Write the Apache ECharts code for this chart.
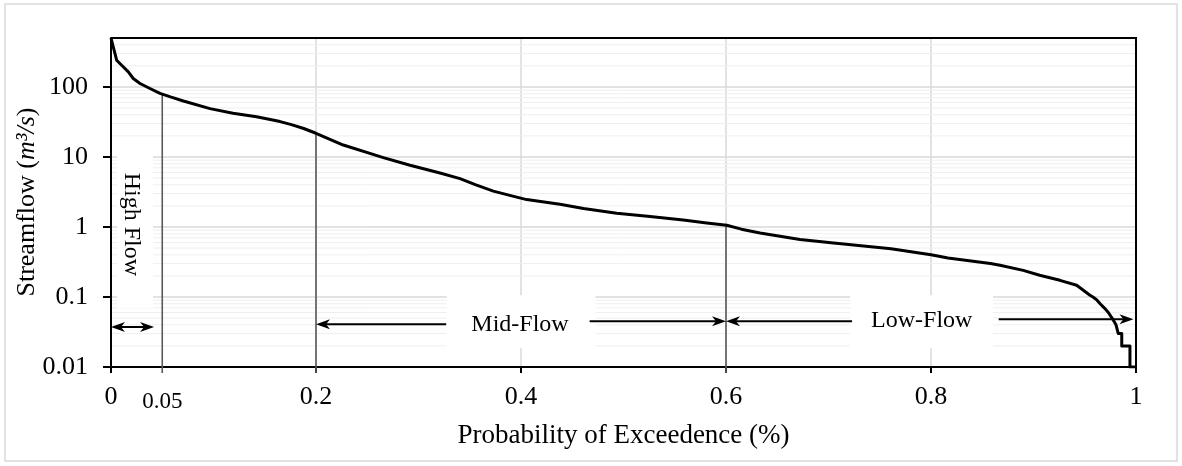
<!DOCTYPE html>
<html>
<head>
<meta charset="utf-8">
<title>Flow Duration Curve</title>
<script src="https://cdn.jsdelivr.net/npm/echarts@6/dist/echarts.min.js"></script>
<style>
  html, body { margin: 0; padding: 0; background: #fff; }
  #chart { width: 1182px; height: 466px; }
</style>
</head>
<body>
<div id="chart"></div>
<script>
// Flow duration curve: exceedance probability vs. streamflow (m3/s)
const probability = [
  0, 0.0022, 0.0055, 0.0104, 0.0169, 0.0217, 0.0283, 0.038, 0.0478, 0.058,
  0.0706, 0.0966, 0.119, 0.142, 0.165, 0.176, 0.188, 0.2, 0.2266, 0.2657,
  0.2917, 0.321, 0.3405, 0.356, 0.373, 0.39, 0.4055, 0.438, 0.461, 0.4934,
  0.5259, 0.5583, 0.5812, 0.6007, 0.615, 0.6332, 0.6722, 0.705, 0.761, 0.8,
  0.8166, 0.858, 0.8673, 0.89, 0.906, 0.9258, 0.9421, 0.9551, 0.958, 0.962,
  0.965, 0.969, 0.973, 0.9766, 0.9805, 0.9827, 0.9861, 0.9861, 0.9941, 0.9941,
  1
];
const flow = [
  500, 373, 241, 204, 164, 132, 112, 95, 81, 72,
  63, 49, 42, 37.5, 32, 29, 25.5, 21.8, 14.8, 9.8,
  7.6, 5.9, 4.9, 4.0, 3.25, 2.8, 2.46, 2.11, 1.83, 1.57,
  1.41, 1.26, 1.14, 1.06, 0.93, 0.82, 0.66, 0.59, 0.49, 0.4,
  0.36, 0.3, 0.284, 0.24, 0.204, 0.173, 0.147, 0.106, 0.1, 0.09,
  0.08, 0.07, 0.06, 0.05, 0.04, 0.03, 0.03, 0.02, 0.02, 0.01,
  0.01
];

// Flow-regime boundaries (exceedance probability)
const boundaries = [0.05, 0.2, 0.6];
const boundaryLabel = '0.05';

// Regime names and their label boxes: [p0, p1, qTop, qBottom, pText, qText]
const regimeNames = ['High Flow', 'Mid-Flow', 'Low-Flow'];
const regimeBoxes = [
  [0.006, 0.041, 16, 0.069, 0.02, 1.09],
  [0.3275, 0.4727, 0.106, 0.0185, 0.399, 0.0407],
  [0.721, 0.8605, 0.106, 0.0185, 0.791, 0.0464]
];
// Span arrows: [pFrom, pTo, q, headAtFrom, headAtTo]
const regimeArrows = [
  [0, 0.042, 0.0373, 1, 1],
  [0.327, 0.2, 0.0407, 0, 1],
  [0.467, 0.6, 0.045, 0, 1],
  [0.723, 0.6, 0.045, 0, 1],
  [0.866, 0.9975, 0.048, 0, 1]
];

const xTickStep = 0.2;
const yMin = 0.01, yMax = 500;

const FONT = "'Liberation Serif', 'Times New Roman', serif";

const curve = probability.map((p, i) => [p, flow[i]]);

// Curve value at p (log-linear between neighbouring curve points)
function curveAt(p) {
  for (let i = 1; i < probability.length; i++) {
    if (p <= probability[i]) {
      const p0 = probability[i - 1], p1 = probability[i];
      const t = p1 === p0 ? 0 : (p - p0) / (p1 - p0);
      return Math.pow(10, Math.log10(flow[i - 1]) + t * (Math.log10(flow[i]) - Math.log10(flow[i - 1])));
    }
  }
  return flow[flow.length - 1];
}

// Minor log gridline values (2..9 within each decade)
const minorGrid = [];
for (let d = -2; d <= 2; d++) {
  for (let k = 2; k <= 9; k++) {
    const v = k * Math.pow(10, d);
    if (v < yMax) minorGrid.push(v);
  }
}

function arrowHead(tip, dir) {
  const L = 14, W = 5, N = 4;
  return {
    type: 'polygon',
    shape: { points: [
      [tip[0], tip[1]],
      [tip[0] - dir * L, tip[1] - W],
      [tip[0] - dir * (L - N), tip[1]],
      [tip[0] - dir * L, tip[1] + W]
    ] },
    style: { fill: '#000' }
  };
}

const chart = echarts.init(document.getElementById('chart'), null, { renderer: 'canvas' });

const option = {
  animation: false,
  backgroundColor: '#fff',
  textStyle: { fontFamily: FONT },
  grid: {
    left: 111, right: 46, top: 38, bottom: 99,
    show: false
  },
  xAxis: {
    type: 'value', min: 0, max: 1, interval: xTickStep,
    name: 'Probability of Exceedence (%)',
    nameLocation: 'middle', nameGap: 55,
    nameTextStyle: { fontFamily: FONT, fontSize: 27, color: '#000' },
    axisLine: { lineStyle: { color: '#000', width: 2 } },
    axisTick: { show: true, length: 6, lineStyle: { color: '#000', width: 2 } },
    axisLabel: {
      fontFamily: FONT, fontSize: 26, color: '#000', margin: 17,
      formatter: v => String(+v.toFixed(2))
    },
    splitLine: { show: true, showMinLine: false, showMaxLine: false, lineStyle: { color: '#d9d9d9', width: 1.5 } }
  },
  yAxis: {
    type: 'log', logBase: 10, min: yMin, max: yMax,
    axisLine: { onZero: false, lineStyle: { color: '#000', width: 2 } },
    axisTick: { show: true, length: 8, lineStyle: { color: '#000', width: 2 } },
    axisLabel: {
      fontFamily: FONT, fontSize: 26, color: '#000', margin: 23, showMaxLabel: false,
      formatter: v => {
        const e = Math.log10(v);
        return Math.abs(e - Math.round(e)) < 1e-6 ? String(+v.toPrecision(3)) : '';
      }
    },
    splitLine: { show: true, showMinLine: false, showMaxLine: false, lineStyle: { color: '#d9d9d9', width: 1.5 } }
  },
  graphic: [
    {
      type: 'rect', silent: true, z: 0,
      shape: { x: 5, y: 4, width: 1172, height: 457 },
      style: { fill: null, stroke: '#d9d9d9', lineWidth: 1.5 }
    },
    {
      type: 'text', silent: true, z: 5,
      x: 27, y: 202, rotation: Math.PI / 2,
      style: {
        text: 'Streamflow ({i|m³/s})',
        font: '26px ' + FONT, fill: '#000',
        align: 'center', verticalAlign: 'middle',
        rich: { i: { fontStyle: 'italic', fontFamily: FONT, fontSize: 26, fill: '#000' } }
      }
    }
  ],
  series: [
    {
      // minor log gridlines
      type: 'custom', name: 'minor', z: 0, silent: true,
      data: minorGrid.map(v => [0, v]),
      renderItem(params, api) {
        const cs = params.coordSys;
        const y = api.coord([0, api.value(1)])[1];
        return {
          type: 'line',
          shape: { x1: cs.x, y1: y, x2: cs.x + cs.width, y2: y },
          style: { stroke: '#efefef', lineWidth: 1 }
        };
      }
    },
    {
      // regime label boxes (white panels) with text
      type: 'custom', name: 'regimes', z: 1, silent: true,
      data: regimeBoxes,
      renderItem(params, api) {
        const i = params.dataIndex;
        const a = api.coord([api.value(0), api.value(2)]);
        const b = api.coord([api.value(1), api.value(3)]);
        const c = api.coord([api.value(4), api.value(5)]);
        const vertical = i === 0;
        return {
          type: 'group',
          children: [
            {
              type: 'rect',
              shape: { x: a[0], y: a[1], width: b[0] - a[0], height: b[1] - a[1] },
              style: { fill: '#fff' }
            },
            {
              type: 'text',
              x: c[0], y: c[1], rotation: vertical ? -Math.PI / 2 : 0,
              style: {
                text: regimeNames[i], font: '24px ' + FONT, fill: '#000',
                align: 'center', verticalAlign: 'middle'
              }
            }
          ]
        };
      }
    },
    {
      // regime boundary lines
      type: 'custom', name: 'boundaries', z: 2, silent: true,
      data: boundaries.map(p => [p, curveAt(p)]),
      renderItem(params, api) {
        const top = api.coord([api.value(0), api.value(1)]);
        const bot = api.coord([api.value(0), yMin]);
        const children = [{
          type: 'line',
          shape: { x1: top[0], y1: top[1], x2: bot[0], y2: bot[1] + 6 },
          style: { stroke: '#595959', lineWidth: 1.6 }
        }];
        if (params.dataIndex === 0) {
          children.push({
            type: 'text', x: bot[0], y: bot[1] + 35,
            style: { text: boundaryLabel, font: '23px ' + FONT, fill: '#000', align: 'center', verticalAlign: 'middle' }
          });
        }
        return { type: 'group', children };
      }
    },
    {
      // span arrows
      type: 'custom', name: 'arrows', z: 4, silent: true,
      data: regimeArrows,
      renderItem(params, api) {
        const s = api.coord([api.value(0), api.value(2)]);
        const e = api.coord([api.value(1), api.value(2)]);
        const dir = e[0] > s[0] ? 1 : -1;
        const children = [{
          type: 'line',
          shape: { x1: s[0] + (api.value(3) ? dir * 4 : 0), y1: s[1], x2: e[0] - dir * 4, y2: e[1] },
          style: { stroke: '#000', lineWidth: 2 }
        }];
        if (api.value(4)) children.push(arrowHead(e, dir));
        if (api.value(3)) children.push(arrowHead(s, -dir));
        return { type: 'group', children };
      }
    },
    {
      // top and right edges of the plot frame
      type: 'custom', name: 'frame', z: 5, silent: true,
      data: [[0, yMax]],
      renderItem(params) {
        const cs = params.coordSys;
        return {
          type: 'polyline',
          shape: { points: [[cs.x, cs.y], [cs.x + cs.width, cs.y], [cs.x + cs.width, cs.y + cs.height]] },
          style: { stroke: '#000', lineWidth: 2, fill: null }
        };
      }
    },
    {
      type: 'line', name: 'Streamflow', z: 3,
      data: curve,
      showSymbol: false, symbol: 'none',
      lineStyle: { color: '#000', width: 3, join: 'round' }
    }
  ]
};

chart.setOption(option);
</script>
</body>
</html>
